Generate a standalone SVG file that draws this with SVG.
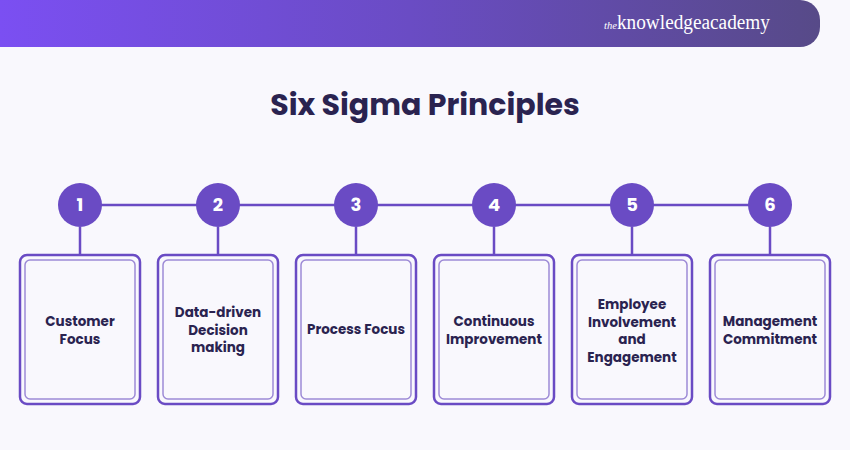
<svg xmlns="http://www.w3.org/2000/svg" width="850" height="450" viewBox="0 0 850 450">
<defs>
<linearGradient id="hg" x1="0" x2="1" y1="0" y2="0"><stop offset="0" stop-color="#7b4ff2"/><stop offset="0.5" stop-color="#6a4cc4"/><stop offset="1" stop-color="#574a88"/></linearGradient>
<style>
.c{fill:#6a4bc4}
.n{fill:#fff;font-family:Poppins,"Open Sans",sans-serif;font-weight:700;font-size:18px;text-anchor:middle}
.o{fill:none;stroke:#6a4bc4;stroke-width:2.5}
.i{fill:none;stroke:#9d8ad6;stroke-width:1.5}
.t{fill:#2a2350;font-family:Poppins,"Open Sans",sans-serif;font-weight:700;font-size:13.5px;text-anchor:middle}
.l{stroke:#6a4bc4;stroke-width:2.5}
</style>
</defs>
<rect width="850" height="450" fill="#f9f8fd"/>
<path d="M0 0H800a20 20 0 0 1 20 20V27a20 20 0 0 1-20 20H0Z" fill="url(#hg)"/>
<text x="604" y="29" fill="#fff" font-family="Liberation Serif,serif" font-size="20" textLength="166" lengthAdjust="spacingAndGlyphs"><tspan font-style="italic" font-size="11">the</tspan>knowledgeacademy</text>
<text x="425" y="115" fill="#2a2350" font-family="Poppins,'Open Sans',sans-serif" font-weight="700" font-size="30" text-anchor="middle">Six Sigma Principles</text>
<g id="connectors">
<line class="l" x1="80" y1="205" x2="770" y2="205"/>
<line class="l" x1="80" y1="227" x2="80" y2="255"/><line class="l" x1="218" y1="227" x2="218" y2="255"/><line class="l" x1="356" y1="227" x2="356" y2="255"/><line class="l" x1="494" y1="227" x2="494" y2="255"/><line class="l" x1="632" y1="227" x2="632" y2="255"/><line class="l" x1="770" y1="227" x2="770" y2="255"/>
</g>
<g id="n1"><circle class="c" cx="80" cy="205" r="22"/><text class="n" x="80" y="211">1</text><rect class="o" x="20" y="255" width="120" height="149" rx="7"/><rect class="i" x="25" y="260" width="110" height="139" rx="5"/><text class="t" x="80" y="326">Customer</text><text class="t" x="80" y="343.5">Focus</text></g>
<g id="n2"><circle class="c" cx="218" cy="205" r="22"/><text class="n" x="218" y="211">2</text><rect class="o" x="158" y="255" width="120" height="149" rx="7"/><rect class="i" x="163" y="260" width="110" height="139" rx="5"/><text class="t" x="218" y="317">Data-driven</text><text class="t" x="218" y="334.5">Decision</text><text class="t" x="218" y="352">making</text></g>
<g id="n3"><circle class="c" cx="356" cy="205" r="22"/><text class="n" x="356" y="211">3</text><rect class="o" x="296" y="255" width="120" height="149" rx="7"/><rect class="i" x="301" y="260" width="110" height="139" rx="5"/><text class="t" x="356" y="334">Process Focus</text></g>
<g id="n4"><circle class="c" cx="494" cy="205" r="22"/><text class="n" x="494" y="211">4</text><rect class="o" x="434" y="255" width="120" height="149" rx="7"/><rect class="i" x="439" y="260" width="110" height="139" rx="5"/><text class="t" x="494" y="326">Continuous</text><text class="t" x="494" y="343.5">Improvement</text></g>
<g id="n5"><circle class="c" cx="632" cy="205" r="22"/><text class="n" x="632" y="211">5</text><rect class="o" x="572" y="255" width="120" height="149" rx="7"/><rect class="i" x="577" y="260" width="110" height="139" rx="5"/><text class="t" x="632" y="309">Employee</text><text class="t" x="632" y="326.5">Involvement</text><text class="t" x="632" y="344">and</text><text class="t" x="632" y="361.5">Engagement</text></g>
<g id="n6"><circle class="c" cx="770" cy="205" r="22"/><text class="n" x="770" y="211">6</text><rect class="o" x="710" y="255" width="120" height="149" rx="7"/><rect class="i" x="715" y="260" width="110" height="139" rx="5"/><text class="t" x="770" y="326">Management</text><text class="t" x="770" y="343.5">Commitment</text></g>
</svg>
